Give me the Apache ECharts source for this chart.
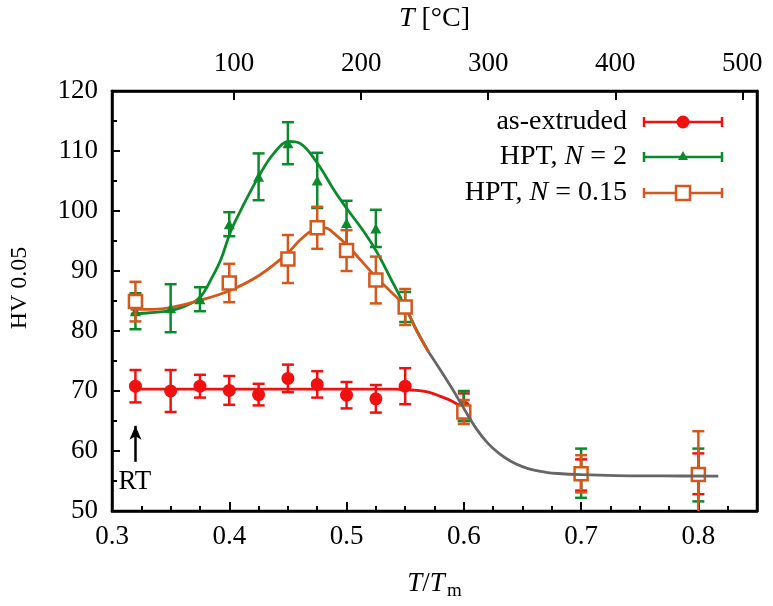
<!DOCTYPE html>
<html>
<head>
<meta charset="utf-8">
<script src="https://cdn.jsdelivr.net/npm/echarts@6/dist/echarts.min.js"></script>
<style>html,body{margin:0;padding:0;background:#fff}#c{width:773px;height:606px}</style>
</head>
<body>
<div id="c"></div>
<script>
// ---- data ----
const Tm = 923; // K, used for top axis conversion
const redX = [0.32,0.35,0.375,0.4,0.425,0.45,0.475,0.5,0.525,0.55,0.6,0.7,0.8];
const redY = [70.8,70.0,70.8,70.1,69.4,72.1,71.1,69.3,68.7,70.8,67.3,56.0,56.2];
const redE = [2.7,3.5,1.9,2.4,1.8,2.3,2.2,2.2,2.3,3.0,2.3,2.6,3.4];
const greenX = [0.32,0.35,0.375,0.4,0.425,0.45,0.475,0.5,0.525,0.55,0.6,0.7,0.8];
const greenY = [83.3,83.8,85.3,97.8,105.7,111.3,105.1,98.0,97.1,84.0,67.5,56.3,56.0];
const greenE = [3.0,4.0,2.0,2.0,3.9,3.5,4.6,3.7,3.1,2.5,2.5,4.1,4.4];
const orangeX = [0.32,0.4,0.45,0.475,0.5,0.525,0.55,0.6,0.7,0.8];
const orangeY = [84.9,88.0,92.0,97.2,93.4,88.5,84.0,66.5,56.2,56.1];
const orangeE = [3.3,3.2,4.0,3.5,3.4,3.9,3.0,2.0,3.1,7.2];

const greenFitX = [0.316,0.33,0.35,0.365,0.375,0.385,0.393,0.401,0.41,0.4255,0.438,0.451,0.461,0.475,0.489,0.501,0.515,0.526,0.538,0.549,0.56,0.57];
const greenFitY = [82.8,83.0,83.4,84.4,85.6,88.8,92.0,96.5,100.2,105.9,109.6,111.6,111.2,108.0,103.6,100.2,96.5,93.1,88.6,84.4,80.0,76.5];
const orangeFitX = [0.316,0.335,0.35,0.375,0.4,0.425,0.45,0.461,0.475,0.482,0.489,0.501,0.513,0.526,0.538,0.549,0.56,0.57];
const orangeFitY = [83.6,83.6,83.9,85.1,86.7,89.2,93.0,95.3,97.1,97.2,96.3,94.2,91.6,88.8,86.5,84.3,80.0,76.5];
const redFitX = [0.316,0.35,0.4,0.45,0.5,0.54,0.55,0.56,0.57,0.58,0.59,0.599];
const redFitY = [70.3,70.3,70.3,70.3,70.3,70.3,70.25,70.1,69.8,69.1,68.3,67.2];
const grayFitX = [0.57,0.58,0.59,0.6,0.61,0.62,0.63,0.64,0.65,0.66,0.67,0.68,0.7,0.73,0.77,0.817];
const grayFitY = [76.5,73.5,70.4,67.1,63.9,61.4,59.6,58.3,57.4,56.8,56.45,56.25,56.05,55.9,55.85,55.8];

const xTicks = [0.3,0.4,0.5,0.6,0.7,0.8];
const topTicks = [100,200,300,400,500];
const names = ['as-extruded','HPT, N = 2','HPT, N = 0.15'];

// ---- styling ----
const FONT = 'Liberation Serif';
const RED = '#f01010', GREEN = '#0b8a2c', ORANGE = '#d4581c', GRAY = '#666666';

function zip(xs, ys, es) { return xs.map((x, i) => es ? [x, ys[i], es[i]] : [x, ys[i]]); }

function errRender(color) {
  return function (params, api) {
    const x = api.value(0), y = api.value(1), e = api.value(2);
    const lo = Math.max(y - e, 50);
    const t = api.coord([x, y + e]);
    const b = api.coord([x, lo]);
    const hw = 6;
    const st = { stroke: color, lineWidth: 2.5 };
    const ch = [
      { type: 'line', shape: { x1: t[0], y1: t[1], x2: b[0], y2: b[1] }, style: st },
      { type: 'line', shape: { x1: t[0] - hw, y1: t[1], x2: t[0] + hw, y2: t[1] }, style: st }
    ];
    if (y - e >= 50) ch.push({ type: 'line', shape: { x1: b[0] - hw, y1: b[1], x2: b[0] + hw, y2: b[1] }, style: st });
    return { type: 'group', children: ch };
  };
}

const chart = echarts.init(document.getElementById('c'), null, { renderer: 'canvas' });
const L = 111, R = 757, T = 89, B = 517;

const legendY = [122, 157, 193];
const legendColors = [RED, GREEN, ORANGE];
const legendGraphics = [];
const legendTexts = [
  '{n|as-extruded}',
  '{n|HPT, }{i|N}{n| = 2}',
  '{n|HPT, }{i|N}{n| = 0.15}'
];
for (let k = 0; k < 3; k++) {
  const y = legendY[k], c = legendColors[k];
  legendGraphics.push({
    type: 'text', x: 627, y: y, style: {
      text: legendTexts[k], align: 'right', verticalAlign: 'middle',
      rich: { n: { fontFamily: FONT, fontSize: 28, fill: '#000' }, i: { fontFamily: FONT, fontSize: 28, fontStyle: 'italic', fill: '#000' } }
    }
  });
  const st = { stroke: c, lineWidth: 2.5 };
  legendGraphics.push({ type: 'line', shape: { x1: 644, y1: y, x2: 722, y2: y }, style: st });
  legendGraphics.push({ type: 'line', shape: { x1: 644, y1: y - 5, x2: 644, y2: y + 5 }, style: st });
  legendGraphics.push({ type: 'line', shape: { x1: 722, y1: y - 5, x2: 722, y2: y + 5 }, style: st });
}
legendGraphics.push({ type: 'circle', shape: { cx: 683, cy: legendY[0], r: 6.5 }, style: { fill: RED } });
legendGraphics.push({ type: 'polygon', shape: { points: [[683, legendY[1] - 6], [688, legendY[1] + 3], [678, legendY[1] + 3]] }, style: { fill: GREEN } });
legendGraphics.push({ type: 'rect', shape: { x: 676, y: legendY[2] - 7, width: 14, height: 14 }, style: { fill: '#fff', stroke: ORANGE, lineWidth: 2.5 } });

const tickLabel = { fontFamily: FONT, fontSize: 27, color: '#000' };

const option = {
  animation: false,
  backgroundColor: '#fff',
  grid: { left: L, right: 773 - R, top: T, bottom: 606 - B, show: true, borderColor: '#000', borderWidth: 2.5, backgroundColor: 'transparent' },
  xAxis: [
    {
      type: 'value', position: 'bottom', min: 0.3, max: 0.85, interval: 0.1,
      axisLine: { show: true, onZero: false, lineStyle: { color: '#000', width: 2.5 } },
      axisTick: { show: true, inside: true, length: 9, lineStyle: { color: '#000', width: 2 } },
      minorTick: { show: true, splitNumber: 4, length: 5, lineStyle: { color: '#000', width: 2 } },
      splitLine: { show: false },
      axisLabel: { ...tickLabel, margin: 12, showMaxLabel: false, formatter: v => (xTicks.some(t => Math.abs(t - v) < 1e-6) ? v.toFixed(1) : '') },
      name: '{i|T}{n|/}{i|T}{s|m}', nameLocation: 'middle', nameGap: 56,
      nameTextStyle: { rich: {
        i: { fontFamily: FONT, fontSize: 27, fontStyle: 'italic', color: '#000', lineHeight: 34 },
        n: { fontFamily: FONT, fontSize: 27, color: '#000', lineHeight: 34 },
        s: { fontFamily: FONT, fontSize: 19, color: '#000', lineHeight: 19, verticalAlign: 'bottom', padding: [0, 0, 0, 2] }
      } }
    },
    {
      type: 'value', position: 'top', min: 0.3 * Tm - 273, max: 0.85 * Tm - 273,
      axisLine: { show: true, onZero: false, lineStyle: { color: '#000', width: 2.5 } },
      axisTick: { show: true, inside: true, length: 9, customValues: topTicks, lineStyle: { color: '#000', width: 2 } },
      splitLine: { show: false },
      axisLabel: { ...tickLabel, margin: 14, customValues: topTicks },
      name: '{i|T}{n| [°C]}', nameLocation: 'middle', nameGap: 58,
      nameTextStyle: { rich: {
        i: { fontFamily: FONT, fontSize: 28, fontStyle: 'italic', color: '#000' },
        n: { fontFamily: FONT, fontSize: 28, color: '#000' }
      } }
    }
  ],
  yAxis: [
    {
      type: 'value', min: 50, max: 120, interval: 10,
      axisLine: { show: true, onZero: false, lineStyle: { color: '#000', width: 2.5 } },
      axisTick: { show: true, inside: true, length: 8, lineStyle: { color: '#000', width: 2 } },
      minorTick: { show: true, splitNumber: 2, length: 5, lineStyle: { color: '#000', width: 2 } },
      splitLine: { show: false },
      axisLabel: { ...tickLabel, margin: 14 },
      name: 'HV 0.05', nameLocation: 'middle', nameGap: 80,
      nameTextStyle: { fontFamily: FONT, fontSize: 24, color: '#000', padding: [0, 0, 0, 26] }
    },
    {
      type: 'value', min: 50, max: 120, position: 'right',
      axisLine: { show: true, onZero: false, lineStyle: { color: '#000', width: 2.5 } },
      axisTick: { show: false }, axisLabel: { show: false }, splitLine: { show: false }
    }
  ],
  graphic: legendGraphics,
  series: [
    { name: 'fit-green', type: 'line', data: zip(greenFitX, greenFitY), smooth: 0.4, showSymbol: false, lineStyle: { color: GREEN, width: 2.8 }, z: 2 },
    { name: 'fit-orange', type: 'line', data: zip(orangeFitX, orangeFitY), smooth: 0.4, showSymbol: false, lineStyle: { color: ORANGE, width: 2.8 }, z: 2 },
    { name: 'fit-red', type: 'line', data: zip(redFitX, redFitY), smooth: 0.4, showSymbol: false, lineStyle: { color: RED, width: 2.8 }, z: 2 },
    { name: 'err-red', type: 'custom', renderItem: errRender(RED), data: zip(redX, redY, redE), z: 3 },
    { name: names[0], type: 'scatter', data: zip(redX, redY), symbol: 'circle', symbolSize: 13, itemStyle: { color: RED, opacity: 1 }, z: 3,
      markLine: { silent: true, symbol: ['none', 'arrow'], symbolSize: [9, 14], animation: false,
        lineStyle: { color: '#000', width: 2.5, type: 'solid' }, label: { show: false },
        data: [[{ coord: [0.32, 58.2] }, { coord: [0.32, 64.2] }]] },
      markPoint: { silent: true, symbol: 'rect', symbolSize: 1, itemStyle: { color: 'rgba(0,0,0,0)' },
        label: { show: true, position: 'inside', formatter: 'RT', fontFamily: FONT, fontSize: 27, color: '#000' },
        data: [{ coord: [0.3195, 54.9] }] } },
    { name: 'err-green', type: 'custom', renderItem: errRender(GREEN), data: zip(greenX, greenY, greenE), z: 4 },
    { name: names[1], type: 'scatter', data: zip(greenX, greenY), symbol: 'triangle', symbolSize: [11, 10], itemStyle: { color: GREEN, opacity: 1 }, z: 4 },
    { name: 'err-orange', type: 'custom', renderItem: errRender(ORANGE), data: zip(orangeX, orangeY, orangeE), z: 5 },
    { name: names[2], type: 'scatter', data: zip(orangeX, orangeY), symbol: 'rect', symbolSize: 13, itemStyle: { color: '#fff', borderColor: ORANGE, borderWidth: 2.5, opacity: 1 }, z: 5 },
    { name: 'fit-gray', type: 'line', data: zip(grayFitX, grayFitY), smooth: 0.4, showSymbol: false, lineStyle: { color: GRAY, width: 2.8 }, z: 6 }
  ]
};
chart.setOption(option);
</script>
</body>
</html>
